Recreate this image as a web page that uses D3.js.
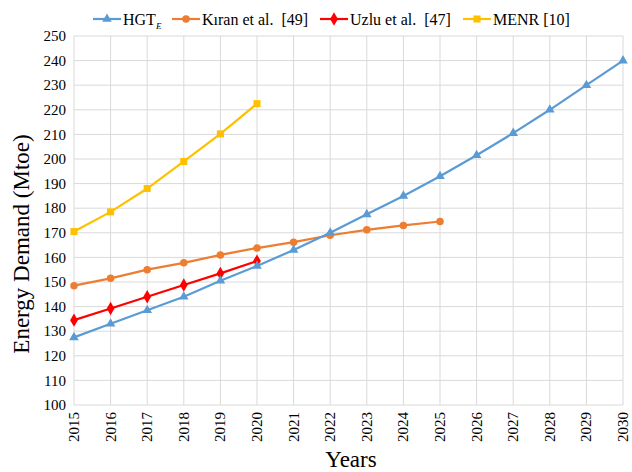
<!DOCTYPE html>
<html>
<head>
<meta charset="utf-8">
<script src="https://cdn.jsdelivr.net/npm/d3@7"></script>
<style>
  body { margin: 0; background: #fff; }
  text { font-family: "Liberation Serif", "Times New Roman", serif; white-space: pre; }
</style>
</head>
<body>
<svg id="chart" width="632" height="472"></svg>
<script>
const years = d3.range(2015, 2031);
const yTicks = d3.range(100, 251, 10);

const hgtValues = [127.5, 133, 138.5, 144, 150.5, 156.5, 163, 170, 177.5, 185, 193, 201.5, 210.5, 220, 230, 240];
const kiranValues = [148.5, 151.5, 155, 157.8, 161, 163.8, 166.2, 169, 171.2, 173, 174.6];
const uzluValues = [134.5, 139.2, 144, 148.8, 153.5, 158.5];
const menrValues = [170.5, 178.5, 188, 199, 210.2, 222.5];

const width = 632, height = 472;
const margin = { top: 36, right: 9, bottom: 67, left: 74 };

const svg = d3.select("#chart");

const x = d3.scaleLinear()
  .domain([2015, 2030])
  .range([margin.left, width - margin.right]);

const y = d3.scaleLinear()
  .domain([100, 250])
  .range([height - margin.bottom, margin.top]);

// grid
svg.append("g")
  .selectAll("line")
  .data(yTicks)
  .enter()
  .append("line")
  .attr("x1", x(2015)).attr("x2", x(2030))
  .attr("y1", d => y(d)).attr("y2", d => y(d))
  .attr("stroke", "#d9d9d9").attr("stroke-width", 1);

svg.append("g")
  .selectAll("line")
  .data(years)
  .enter()
  .append("line")
  .attr("x1", d => x(d)).attr("x2", d => x(d))
  .attr("y1", y(100)).attr("y2", y(250))
  .attr("stroke", "#d9d9d9").attr("stroke-width", 1);

// y tick labels
svg.append("g")
  .selectAll("text")
  .data(yTicks)
  .enter()
  .append("text")
  .attr("x", x(2015) - 8)
  .attr("y", d => y(d))
  .attr("dy", "0.35em")
  .attr("text-anchor", "end")
  .attr("font-family", "Liberation Serif")
  .style("font-size", "15px")
  .text(d => d);

// x tick labels, rotated
svg.append("g")
  .selectAll("text")
  .data(years)
  .enter()
  .append("text")
  .attr("transform", d => "translate(" + (x(d) + 5) + "," + (y(100) + 7) + ") rotate(-90)")
  .attr("text-anchor", "end")
  .attr("font-family", "Liberation Serif")
  .style("font-size", "15px")
  .text(d => d);

// axis titles
svg.append("text")
  .attr("x", 351)
  .attr("y", 467)
  .attr("text-anchor", "middle")
  .style("font-size", "23px")
  .text("Years");

svg.append("text")
  .attr("transform", "translate(29,244) rotate(-90)")
  .attr("text-anchor", "middle")
  .style("font-size", "23px")
  .text("Energy Demand (Mtoe)");

const series = [
  { name: "HGT", sub: "E", values: hgtValues, color: "#5b9bd5", shape: d3.symbolTriangle, size: 40 },
  { name: "Kıran et al.  [49]", values: kiranValues, color: "#ed7d31", shape: d3.symbolCircle, size: 44 },
  { name: "Uzlu et al.  [47]", values: uzluValues, color: "#ff0000", shape: d3.symbolDiamond, size: 52 },
  { name: "MENR [10]", values: menrValues, color: "#ffc000", shape: d3.symbolSquare, size: 50 }
];

const line = d3.line()
  .x((d, i) => x(years[i]))
  .y(d => y(d));

series.slice().reverse().forEach(s => {
  const g = svg.append("g");
  g.append("path")
    .datum(s.values)
    .attr("d", line)
    .attr("fill", "none")
    .attr("stroke", s.color)
    .attr("stroke-width", 2.2);
  g.selectAll("path.pt")
    .data(s.values)
    .enter()
    .append("path")
    .attr("class", "pt")
    .attr("d", d3.symbol().type(s.shape).size(s.size))
    .attr("transform", (d, i) => "translate(" + x(years[i]) + "," + y(d) + ")")
    .attr("fill", s.color);
});

// legend
const legendX = [93, 172, 320, 463];
const legendY = 19;
series.forEach((s, i) => {
  const g = svg.append("g").attr("transform", "translate(" + legendX[i] + "," + legendY + ")");
  g.append("line")
    .attr("x1", 0).attr("x2", 28)
    .attr("stroke", s.color).attr("stroke-width", 2.2);
  g.append("path")
    .attr("d", d3.symbol().type(s.shape).size(s.size))
    .attr("transform", "translate(14,0)")
    .attr("fill", s.color);
  const t = g.append("text")
    .attr("x", 30)
    .attr("dy", "0.35em")
    .style("font-size", "16px")
    .text(s.name);
  if (s.sub) {
    t.append("tspan")
      .attr("dy", "4")
      .style("font-size", "9px")
      .style("font-style", "italic")
      .text(s.sub);
  }
});
</script>
</body>
</html>
